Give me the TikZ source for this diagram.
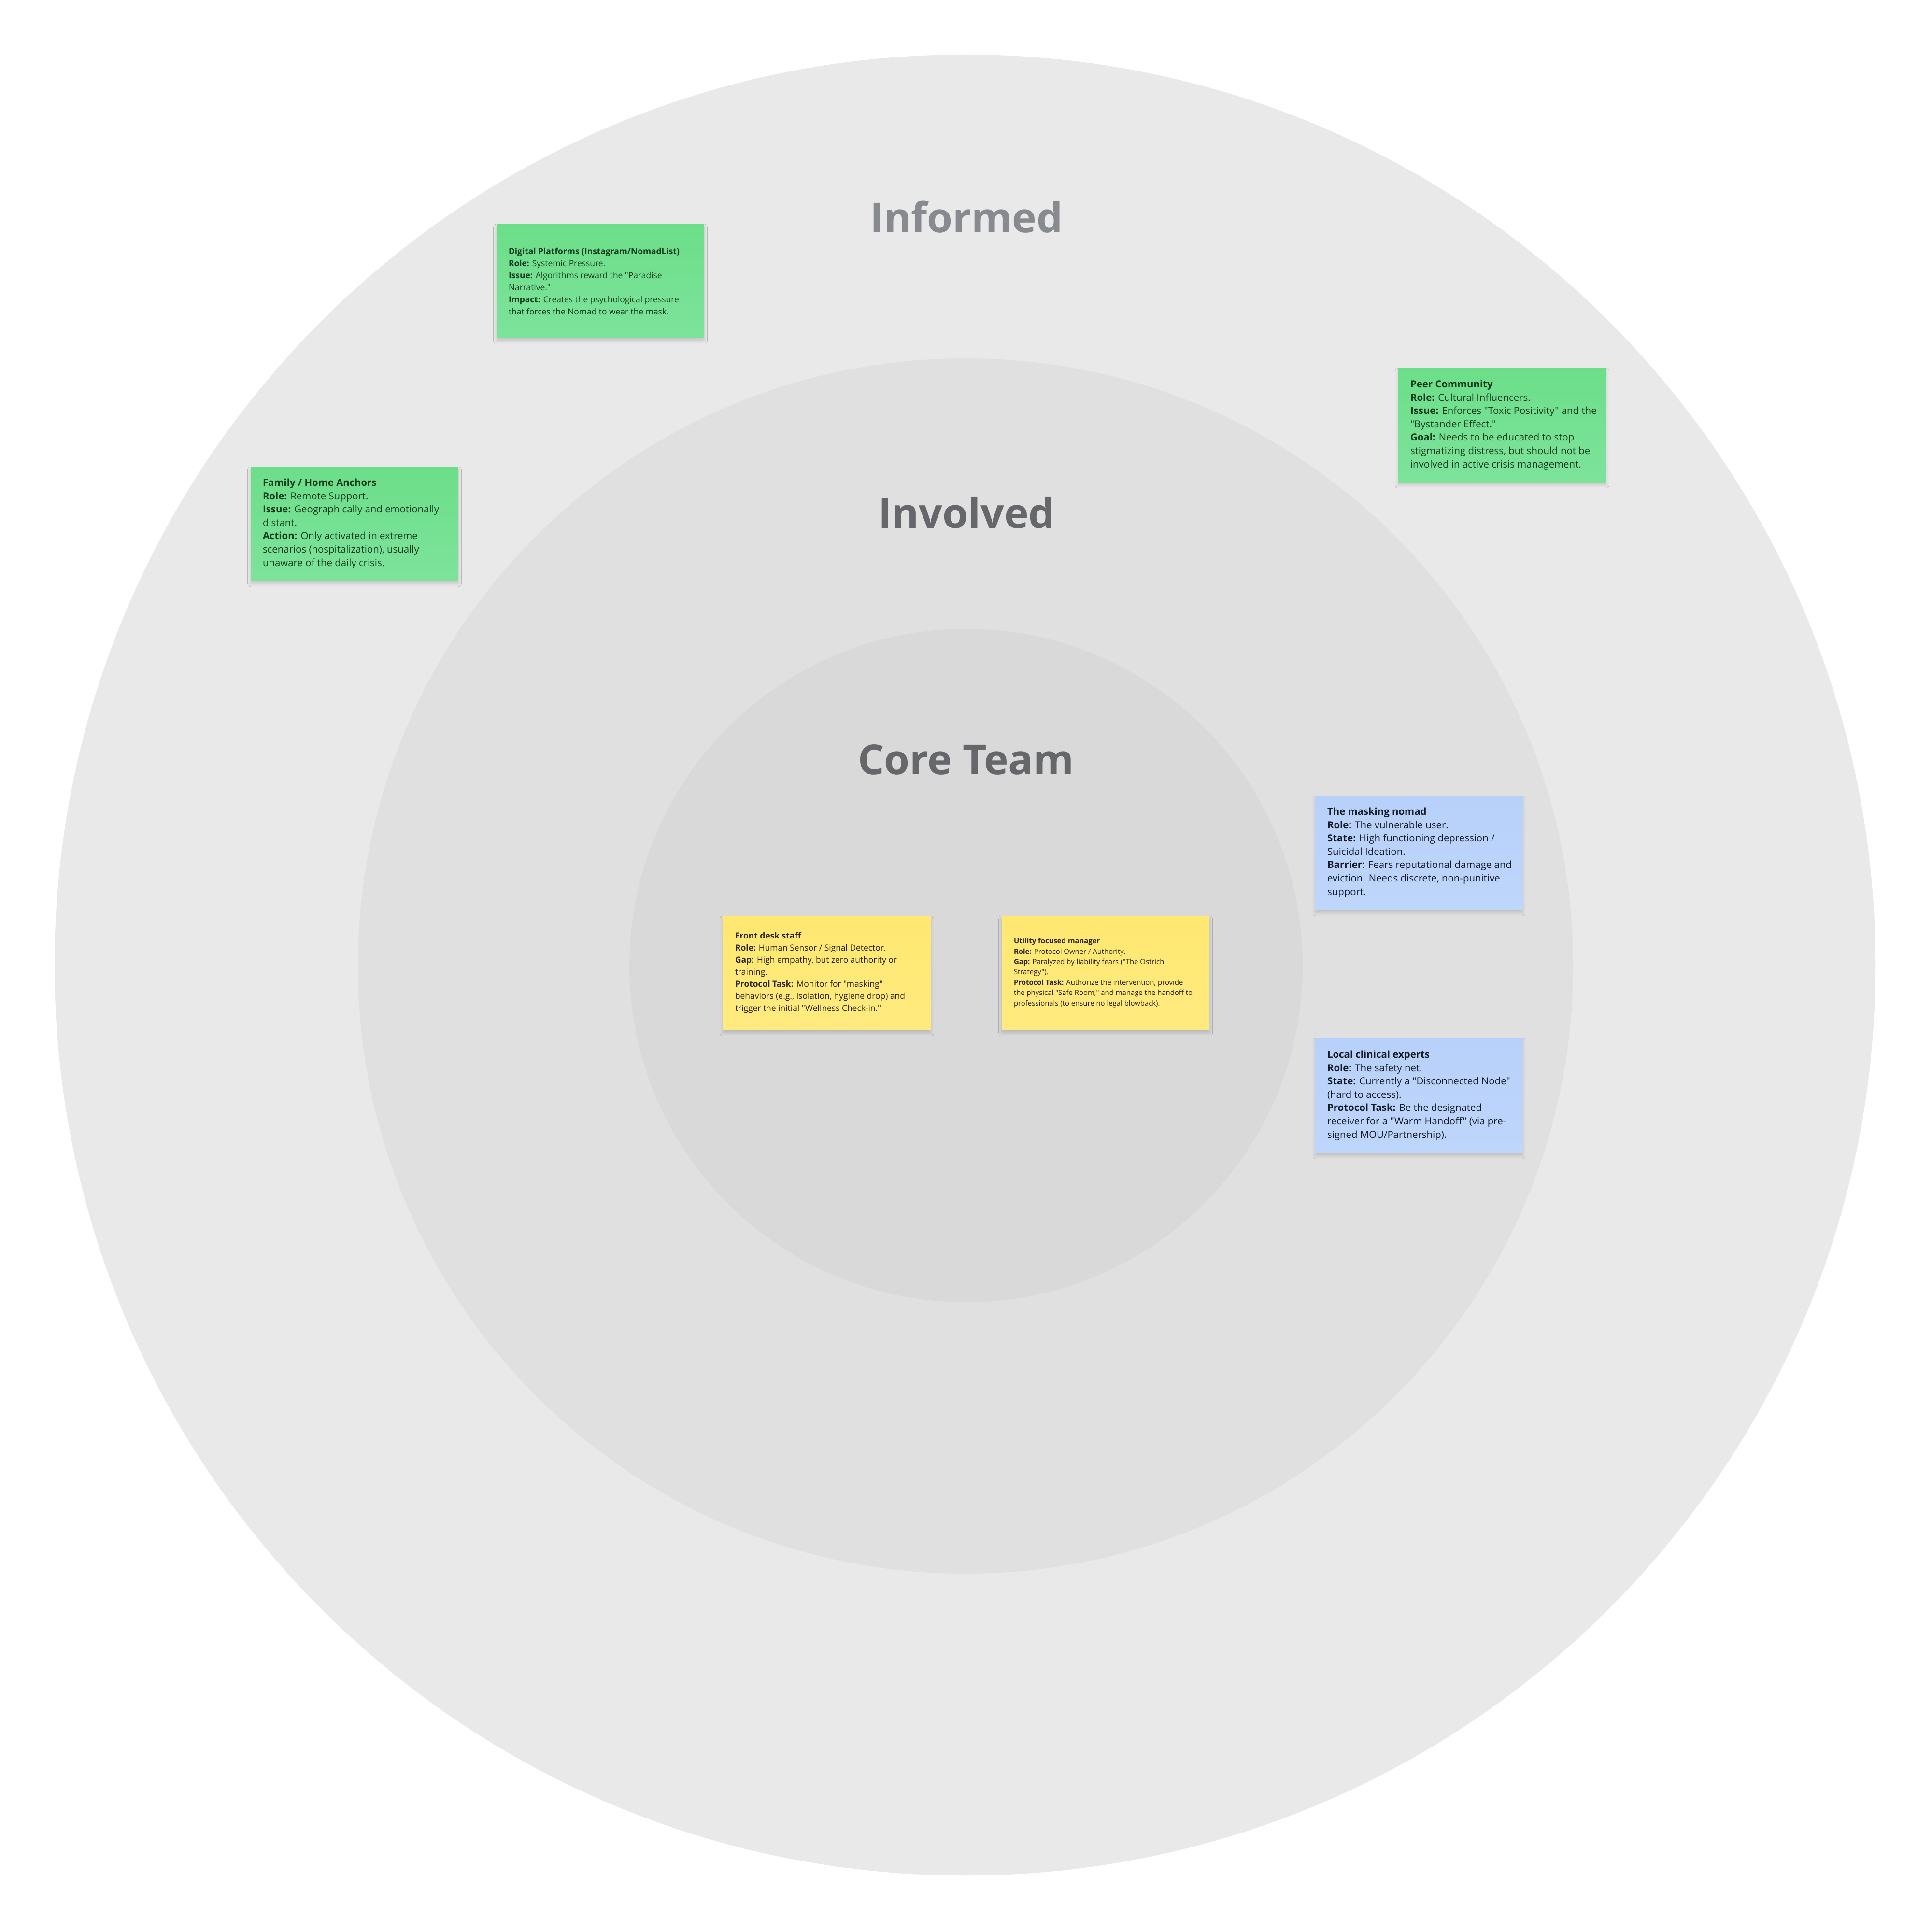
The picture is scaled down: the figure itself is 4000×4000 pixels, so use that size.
\documentclass[tikz,border=0pt]{standalone}
\usepackage{fontspec}
\setmainfont{Open Sans}[Ligatures=TeXOff]
\newfontfamily\titlefont{Open Sans}[Ligatures=TeXOff]
\usetikzlibrary{shadows.blur}
\definecolor{ringA}{HTML}{E9E9E9}
\definecolor{ringB}{HTML}{E0E0E0}
\definecolor{ringC}{HTML}{D9D9D9}
\definecolor{titleA}{HTML}{878A8E}
\definecolor{titleB}{HTML}{66676B}
\definecolor{greenTop}{HTML}{6CDE89}
\definecolor{greenBot}{HTML}{7DE39B}
\definecolor{blueTop}{HTML}{B8D1FA}
\definecolor{blueBot}{HTML}{BED6FB}
\definecolor{yellowTop}{HTML}{FFE870}
\definecolor{yellowBot}{HTML}{FFEA80}
\definecolor{inkGreen}{HTML}{123A1E}
\definecolor{inkBlue}{HTML}{151B26}
\definecolor{inkYellow}{HTML}{2A2410}
\tikzset{
  ring/.style={circle, draw=none, inner sep=0pt},
  ringtitle/.style={anchor=base, inner sep=0pt, font=\titlefont\fontsize{21.4pt}{25pt}\selectfont\bfseries},
  notebox/.style={rectangle, draw=none, minimum width=107.5pt, minimum height=59pt, inner sep=0pt,
    blur shadow={shadow xshift=0pt, shadow yshift=-1.6pt, shadow blur radius=1.6pt, shadow opacity=15}},
  greennote/.style={notebox, top color=greenTop, bottom color=greenBot},
  bluenote/.style={notebox, top color=blueTop, bottom color=blueBot},
  yellownote/.style={notebox, top color=yellowTop, bottom color=yellowBot},
  notetext/.style={anchor=west, inner sep=0pt, align=left},
  bigtext/.style={notetext, font=\fontsize{5.1pt}{6.9pt}\selectfont},
  midtext/.style={notetext, font=\fontsize{4.35pt}{6.25pt}\selectfont},
  smalltext/.style={notetext, font=\fontsize{3.72pt}{5.35pt}\selectfont},
}
\begin{document}
\begin{tikzpicture}[x=0.25pt, y=-0.25pt]
\useasboundingbox[fill=white] (0,0) rectangle (4000,4000);
% rings
\node[ring, fill=ringA, minimum size=942.5pt] (outer) at (1998,1998) {};
\node[ring, fill=ringB, minimum size=629pt] (middle) at (1999,2000) {};
\node[ring, fill=ringC, minimum size=348.5pt] (inner) at (2000,1999) {};
% ring titles
\node[ringtitle, text=titleA] (tInformed) at (2001,482) {Informed};
\node[ringtitle, text=titleB] (tInvolved) at (2001,1093) {Involved};
\node[ringtitle, text=titleB] (tCore) at (2000,1603) {Core Team};
% notes
\node[greennote] (n1) at (1243,582) {};
\node[midtext, text=inkGreen] (n1t) at ([xshift=6.25pt]n1.west) {\textbf{Digital Platforms (Instagram/NomadList)}\\
\textbf{Role:} Systemic Pressure.\\
\textbf{Issue:} Algorithms reward the "Paradise\\
Narrative."\\
\textbf{Impact:} Creates the psychological pressure\\
that forces the Nomad to wear the mask.};

\node[greennote] (n2) at (3110,880) {};
\node[bigtext, text=inkGreen] (n2t) at ([xshift=6.25pt]n2.west) {\textbf{Peer Community}\\
\textbf{Role:} Cultural Influencers.\\
\textbf{Issue:} Enforces "Toxic Positivity" and the\\
"Bystander Effect."\\
\textbf{Goal:} Needs to be educated to stop\\
stigmatizing distress, but should not be\\
involved in active crisis management.};

\node[greennote] (n3) at (734,1084) {};
\node[bigtext, text=inkGreen] (n3t) at ([xshift=6.25pt]n3.west) {\textbf{Family / Home Anchors}\\
\textbf{Role:} Remote Support.\\
\textbf{Issue:} Geographically and emotionally\\
distant.\\
\textbf{Action:} Only activated in extreme\\
scenarios (hospitalization), usually\\
unaware of the daily crisis.};

\node[bluenote] (n4) at (2938,1765) {};
\node[bigtext, text=inkBlue] (n4t) at ([xshift=6.25pt]n4.west) {\textbf{The masking nomad}\\
\textbf{Role:} The vulnerable user.\\
\textbf{State:} High functioning depression /\\
Suicidal Ideation.\\
\textbf{Barrier:} Fears reputational damage and\\
eviction. Needs discrete, non-punitive\\
support.};

\node[bluenote] (n5) at (2938,2268) {};
\node[bigtext, text=inkBlue] (n5t) at ([xshift=6.25pt]n5.west) {\textbf{Local clinical experts}\\
\textbf{Role:} The safety net.\\
\textbf{State:} Currently a "Disconnected Node"\\
(hard to access).\\
\textbf{Protocol Task:} Be the designated\\
receiver for a "Warm Handoff" (via pre-\\
signed MOU/Partnership).};

\node[yellownote] (n6) at (1712,2014) {};
\node[midtext, text=inkYellow] (n6t) at ([xshift=6.25pt]n6.west) {\textbf{Front desk staff}\\
\textbf{Role:} Human Sensor / Signal Detector.\\
\textbf{Gap:} High empathy, but zero authority or\\
training.\\
\textbf{Protocol Task:} Monitor for "masking"\\
behaviors (e.g., isolation, hygiene drop) and\\
trigger the initial "Wellness Check-in."};

\node[yellownote] (n7) at (2289,2014) {};
\node[smalltext, text=inkYellow] (n7t) at ([xshift=6.25pt]n7.west) {\textbf{Utility focused manager}\\
\textbf{Role:} Protocol Owner / Authority.\\
\textbf{Gap:} Paralyzed by liability fears ("The Ostrich\\
Strategy").\\
\textbf{Protocol Task:} Authorize the intervention, provide\\
the physical "Safe Room," and manage the handoff to\\
professionals (to ensure no legal blowback).};
\end{tikzpicture}
\end{document}
